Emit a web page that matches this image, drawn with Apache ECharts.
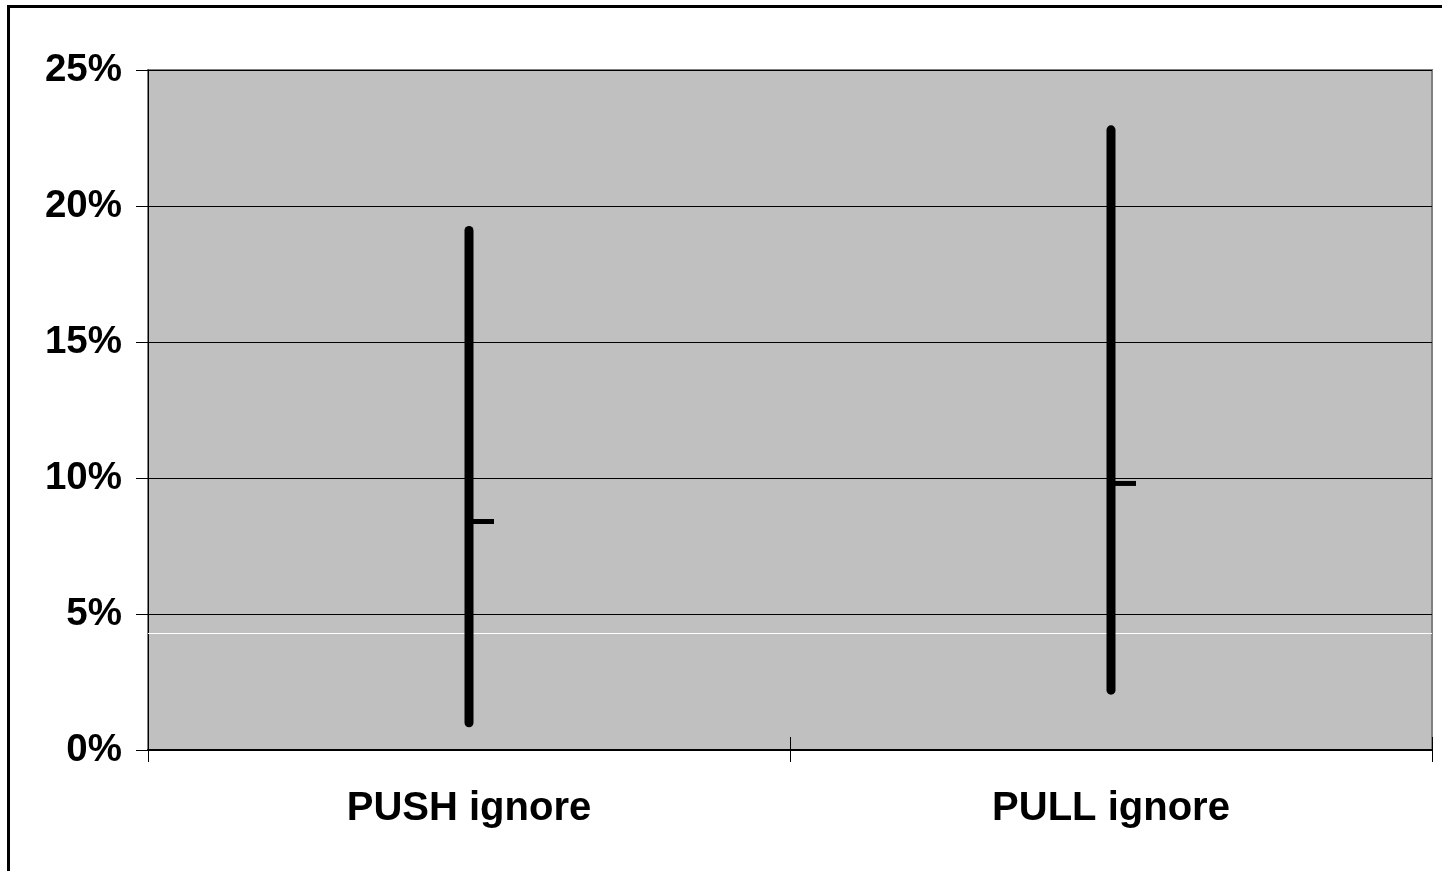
<!DOCTYPE html>
<html>
<head>
<meta charset="utf-8">
<script src="https://cdn.jsdelivr.net/npm/echarts@6/dist/echarts.min.js"></script>
<style>
html,body{margin:0;padding:0;background:#fff;}
#chart{width:1442px;height:871px;}
</style>
</head>
<body>
<div id="chart"></div>
<script>
var categories = ['PUSH ignore', 'PULL ignore'];
var highs = [19.1, 22.8];
var lows = [1.0, 2.2];
var closes = [8.4, 9.8];
var refLineValue = [4.28];
var yTicks = [0, 5, 10, 15, 20, 25];

var chart = echarts.init(document.getElementById('chart'), null, {renderer: 'canvas'});
var FONT = '"Liberation Sans", Arial, sans-serif';

var data = categories.map(function (c, i) { return [i, lows[i], highs[i], closes[i]]; });

var option = {
  animation: false,
  backgroundColor: '#ffffff',
  graphic: [{
    type: 'rect',
    shape: {x: 8.5, y: 6.5, width: 1460, height: 900},
    style: {fill: 'none', stroke: '#000', lineWidth: 3},
    silent: true, z: 100
  }],
  grid: {
    left: 148, right: 10, top: 70, bottom: 121,
    show: true, backgroundColor: '#C0C0C0', borderColor: '#808080', borderWidth: 2
  },
  xAxis: [{
    type: 'category',
    data: categories,
    boundaryGap: true,
    axisLine: {show: true, lineStyle: {color: '#000', width: 2}},
    axisTick: {show: true, inside: false, length: 12, lineStyle: {color: '#000', width: 1}},
    axisLabel: {fontFamily: FONT, fontWeight: 'bold', fontSize: 40, color: '#000', margin: 39},
    splitLine: {show: false}
  }, {
    type: 'category',
    data: categories,
    position: 'bottom',
    boundaryGap: true,
    axisLine: {show: false},
    axisTick: {show: true, inside: true, length: 13, lineStyle: {color: '#000', width: 1}},
    axisLabel: {show: false},
    splitLine: {show: false}
  }],
  yAxis: {
    type: 'value',
    min: yTicks[0], max: yTicks[yTicks.length - 1], interval: yTicks[1] - yTicks[0],
    axisLine: {show: true, lineStyle: {color: '#000', width: 1}},
    axisTick: {show: true, inside: false, length: 12, lineStyle: {color: '#000', width: 1}},
    axisLabel: {formatter: '{value}%', fontFamily: FONT, fontWeight: 'bold', fontSize: 38.5, color: '#000', margin: 26},
    splitLine: {show: true, lineStyle: {color: '#000', width: 1}}
  },
  series: [{
    type: 'custom',
    xAxisIndex: 0,
    data: data,
    renderItem: function (params, api) {
      var x = api.value(0);
      var lo = api.coord([x, api.value(1)]);
      var hi = api.coord([x, api.value(2)]);
      var cl = api.coord([x, api.value(3)]);
      return {
        type: 'group',
        children: [{
          type: 'line',
          shape: {x1: lo[0], y1: lo[1], x2: hi[0], y2: hi[1]},
          style: {stroke: '#000', lineWidth: 9, lineCap: 'round'}
        }, {
          type: 'line',
          shape: {x1: cl[0], y1: cl[1], x2: cl[0] + 25, y2: cl[1]},
          style: {stroke: '#000', lineWidth: 5, lineCap: 'butt'}
        }]
      };
    },
    markLine: {
      silent: true,
      symbol: 'none',
      label: {show: false},
      lineStyle: {color: '#ffffff', width: 1, type: 'solid'},
      data: refLineValue.map(function (v) { return {yAxis: v}; })
    },
    z: 10
  }]
};
chart.setOption(option);
</script>
</body>
</html>
